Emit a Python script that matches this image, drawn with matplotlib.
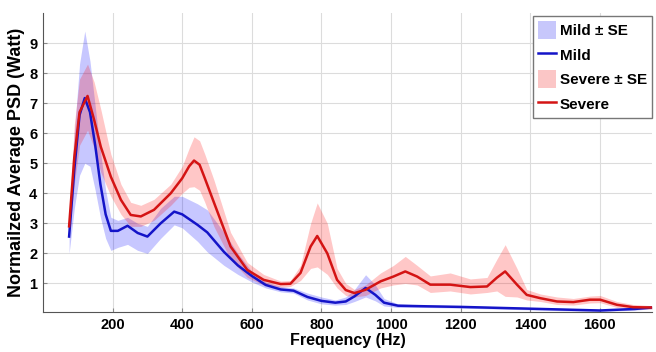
import numpy as np
import matplotlib
matplotlib.use('Agg')
import matplotlib.pyplot as plt
from matplotlib.patches import Patch
from matplotlib.lines import Line2D

# Mild group: frequency (Hz), mean PSD and the +/- SE band edges
freq_mild = [75, 90, 105, 120, 135, 150, 165, 180, 195, 215, 243, 272, 300, 338, 377, 400,
             444, 472, 520, 560, 600, 640, 683, 720, 760, 800, 840, 870, 895, 927, 955, 980,
             1020, 1100, 1200, 1300, 1400, 1500, 1600, 1700, 1750]
mild_mean = [2.56, 4.8, 6.6, 7.17, 6.7, 5.6, 4.3, 3.3, 2.75, 2.75, 2.92, 2.68, 2.56, 3.0, 3.39, 3.3,
             2.95, 2.7, 2.05, 1.6, 1.25, 0.95, 0.8, 0.76, 0.55, 0.42, 0.36, 0.4, 0.57, 0.85, 0.62, 0.36,
             0.26, 0.24, 0.22, 0.19, 0.16, 0.13, 0.1, 0.15, 0.2]
mild_upper = [2.9, 6.0, 8.3, 9.4, 8.4, 6.9, 5.4, 4.1, 3.2, 3.1, 3.2, 3.0, 2.9, 3.5, 3.9, 3.9,
              3.65, 3.45, 2.7, 2.0, 1.4, 1.05, 0.9, 0.85, 0.68, 0.55, 0.45, 0.55, 0.8, 1.29, 0.95, 0.5,
              0.32, 0.28, 0.26, 0.23, 0.2, 0.17, 0.14, 0.19, 0.24]
mild_lower = [2.0, 3.5, 4.6, 5.0, 4.9, 4.1, 3.2, 2.5, 2.1, 2.2, 2.3, 2.1, 2.0, 2.5, 2.95, 2.85,
              2.4, 2.05, 1.6, 1.3, 1.05, 0.85, 0.72, 0.68, 0.45, 0.32, 0.28, 0.3, 0.4, 0.55, 0.42, 0.25,
              0.2, 0.2, 0.18, 0.15, 0.12, 0.09, 0.07, 0.11, 0.16]

# Severe group
freq_sev = [75, 90, 105, 128, 147, 166, 195, 224, 252, 281, 319, 367, 400, 420, 434, 450, 465, 491,
            539, 587, 634, 683, 711, 740, 769, 788, 817, 845, 870, 895, 927, 970, 1007, 1041,
            1075, 1113, 1170, 1228, 1276, 1304, 1328, 1362, 1390, 1429, 1477, 1524, 1572, 1601,
            1649, 1696, 1750]
sev_mean = [2.9, 5.2, 6.7, 7.24, 6.44, 5.55, 4.55, 3.78, 3.28, 3.23, 3.45, 4.0, 4.5, 4.9, 5.09, 4.95, 4.5, 3.7,
            2.23, 1.45, 1.12, 0.98, 0.99, 1.35, 2.23, 2.58, 2.0, 1.12, 0.78, 0.68, 0.79, 1.07, 1.23, 1.4,
            1.23, 0.96, 0.96, 0.88, 0.9, 1.19, 1.4, 0.96, 0.62, 0.51, 0.4, 0.38, 0.46, 0.46,
            0.29, 0.21, 0.2]
sev_upper = [3.2, 6.3, 7.8, 8.3, 7.7, 6.8, 5.3, 4.3, 3.7, 3.6, 3.8, 4.3, 4.9, 5.5, 5.88, 5.75, 5.3, 4.45,
             2.7, 1.7, 1.3, 1.08, 1.1, 1.6, 3.0, 3.68, 3.0, 1.5, 1.0, 0.8, 0.95, 1.35, 1.6, 1.9,
             1.6, 1.25, 1.35, 1.15, 1.2, 1.8, 2.29, 1.5, 0.8, 0.65, 0.55, 0.5, 0.58, 0.6,
             0.4, 0.3, 0.26]
sev_lower = [2.6, 4.3, 5.6, 6.1, 5.5, 4.7, 3.9, 3.3, 2.9, 2.9, 3.1, 3.6, 4.0, 4.2, 4.22, 4.1, 3.7, 2.9,
             1.8, 1.2, 0.95, 0.88, 0.9, 1.1, 1.5, 1.55, 1.3, 0.85, 0.6, 0.55, 0.6, 0.85, 0.95, 1.0,
             0.95, 0.7, 0.75, 0.65, 0.7, 0.75, 0.57, 0.55, 0.45, 0.4, 0.3, 0.28, 0.35, 0.36,
             0.2, 0.15, 0.15]

x_ticks = [200, 400, 600, 800, 1000, 1200, 1400, 1600]
y_ticks = [1, 2, 3, 4, 5, 6, 7, 8, 9]

plt.rcParams['font.family'] = ['Liberation Sans', 'DejaVu Sans']
plt.rcParams['font.weight'] = 'bold'

fig = plt.figure(figsize=(6.56, 3.52), dpi=100)
ax = fig.add_axes([43 / 656, 1 - 312 / 352, 609 / 656, 299 / 352])

blue_band = '#c7c7fb'
red_band = '#fbc6c6'
blue_line = '#1414c8'
red_line = '#d41414'

ax.fill_between(freq_mild, mild_lower, mild_upper, color='#0000ff', alpha=0.22, lw=0)
ax.fill_between(freq_sev, sev_lower, sev_upper, color='#ff0000', alpha=0.22, lw=0)
ax.plot(freq_mild, mild_mean, color=blue_line, lw=1.8)
ax.plot(freq_sev, sev_mean, color=red_line, lw=1.8)

ax.set_xlim(0, 1750)
ax.set_ylim(0.05, 10)
ax.set_xticks(x_ticks)
ax.set_yticks(y_ticks)
ax.grid(True, color='#dcdcdc', lw=0.8)
ax.set_axisbelow(True)
for s in ['top', 'right']:
    ax.spines[s].set_visible(False)
for s in ['left', 'bottom']:
    ax.spines[s].set_color('#555555')
ax.tick_params(direction='in', length=3, labelsize=10.5, color='#888888', pad=4)
for lab in ax.get_xticklabels() + ax.get_yticklabels():
    lab.set_fontweight('bold')

ax.set_xlabel('Frequency (Hz)', fontsize=11.5, fontweight='bold', labelpad=1)
ax.set_ylabel('Normailzed Average PSD (Watt)', fontsize=13, fontweight='bold', labelpad=3)

handles = [Patch(facecolor=blue_band, edgecolor='none'),
           Line2D([0], [0], color=blue_line, lw=1.8),
           Patch(facecolor=red_band, edgecolor='none'),
           Line2D([0], [0], color=red_line, lw=1.8)]
labels = ['Mild \u00b1 SE', 'Mild', 'Severe \u00b1 SE', 'Severe']
leg = ax.legend(handles, labels, loc='upper right', bbox_to_anchor=(1.0, 0.99),
                borderaxespad=0, handlelength=1.2, handleheight=1.4, handletextpad=0.2,
                labelspacing=0.45, borderpad=0.35, fancybox=False, framealpha=1,
                prop={'weight': 'bold', 'size': 11})
leg.get_frame().set_edgecolor('#777777')

fig.savefig('out.png', dpi=100)
